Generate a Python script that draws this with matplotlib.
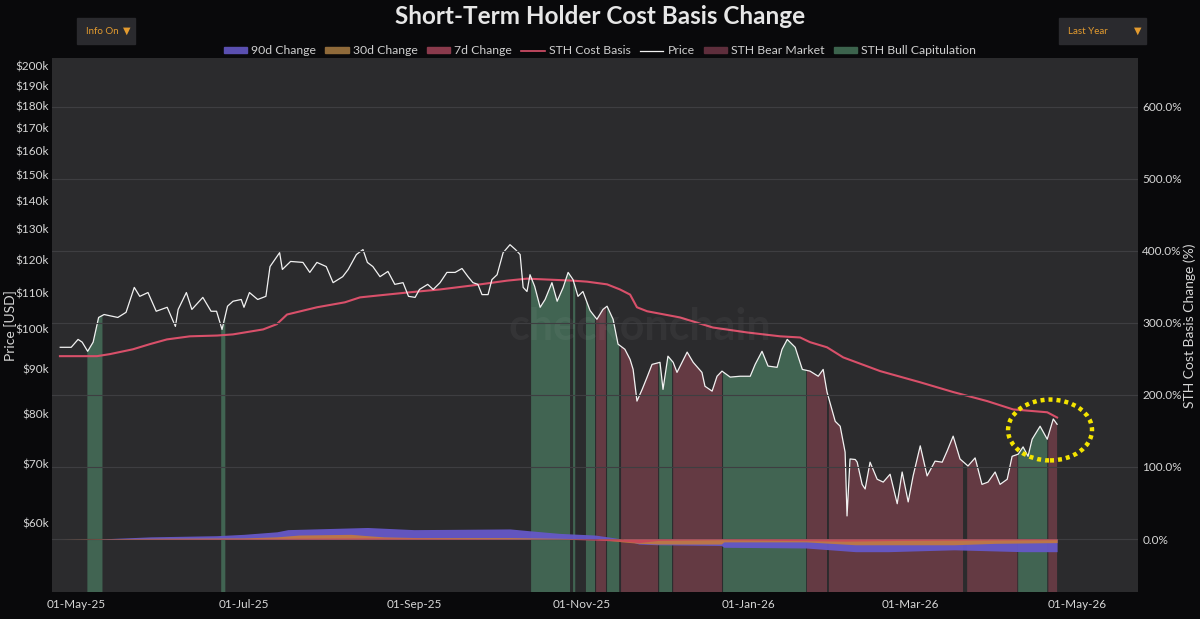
import numpy as np
import matplotlib
matplotlib.use('Agg')
import matplotlib.pyplot as plt
import matplotlib.dates as mdates
from matplotlib.patches import Patch, Ellipse, Rectangle
from matplotlib.lines import Line2D
from matplotlib.ticker import FixedLocator, FuncFormatter, NullLocator, NullFormatter

plt.rcParams['font.family'] = ['Lato', 'DejaVu Sans']

# ---------------- data ----------------
BASE_DATE = '2025-05-01'   # day offsets below are counted from this date

price_day = [
    -6, -2, 0.5, 2, 4, 6, 8, 10, 15, 18,
    21, 23, 26, 29, 33, 36, 37, 40, 42, 46,
    49, 51, 53, 55, 57, 60, 61, 63, 66, 69,
    70.5, 74, 75, 78, 82.5, 85, 87.6, 91, 93.5, 97,
    99, 102, 104.4, 106, 108, 110.6, 113.5, 116, 119, 121,
    123.4, 125, 128, 130, 132.5, 135, 138, 140.5, 142.7, 144.5,
    146.3, 147.8, 150, 151.4, 153.3, 155.5, 158, 160, 161.7, 162.8,
    164.2, 165.3, 167, 169, 170.8, 173.3, 175.2, 177.4, 179.2, 181,
    182.8, 184.6, 187.2, 189.7, 191.9, 193.4, 195.6, 197.4, 199.9, 201.8,
    202.9, 204.3, 206.2, 208, 209.8, 212.7, 213.8, 215.6, 217.5, 218.9,
    222.6, 224.8, 228, 229.1, 231.7, 233.5, 235.3, 238.3, 241.9, 245.6,
    247.4, 249.9, 252.1, 255.4, 257.2, 259.1, 262, 264.6, 267.4, 270.4,
    272.2, 273.6, 276.6, 278.4, 280.2, 280.9, 282, 283.9, 284.6, 286.4,
    287.5, 289.3, 291.9, 294.1, 296.6, 299.2, 301, 303.2, 305, 307.6,
    310.1, 313, 315.6, 317.4, 319.6, 322.1, 325, 327.6, 330.1, 332.3,
    334.9, 336.7, 339.3, 341.1, 343.3, 345.1, 346.9, 348.4, 351.3, 353.9,
    356.1, 357.5]
price_k = [
    95.3, 95.3, 97.3, 96.6, 94.3, 96.6, 103.1, 103.9, 103.1, 104.5,
    111.6, 109.0, 110.1, 104.8, 105.9, 100.7, 105.3, 110.1, 105.3, 108.7,
    104.8, 104.8, 99.9, 106.2, 107.6, 108.1, 105.9, 110.1, 108.1, 109.0,
    117.9, 122.3, 117.0, 119.5, 119.2, 116.1, 119.2, 117.9, 113.0, 114.8,
    117.0, 121.7, 123.3, 119.2, 117.9, 114.8, 116.4, 112.5, 113.0, 109.0,
    108.7, 111.0, 112.5, 111.0, 113.0, 116.1, 116.1, 117.3, 114.8, 113.0,
    112.5, 109.5, 109.5, 113.9, 115.4, 122.3, 124.9, 123.3, 121.7, 111.6,
    110.4, 115.4, 111.9, 105.9, 108.1, 113.0, 107.6, 111.6, 116.1, 113.9,
    109.0, 110.4, 105.0, 102.6, 105.3, 106.2, 102.6, 96.1, 94.8, 92.3,
    89.9, 82.7, 85.3, 88.1, 91.1, 91.6, 85.3, 93.1, 91.6, 89.2,
    94.1, 91.6, 89.2, 86.0, 84.9, 88.3, 89.5, 88.1, 88.3, 88.3,
    91.1, 94.3, 90.7, 90.4, 94.8, 97.3, 95.3, 89.9, 89.5, 88.3,
    89.9, 84.7, 78.4, 77.4, 72.3, 61.1, 71.0, 70.9, 70.4, 66.4,
    65.6, 70.4, 67.3, 66.8, 68.2, 63.1, 68.6, 63.4, 67.9, 73.5,
    67.9, 70.6, 70.4, 72.5, 75.4, 71.0, 69.7, 71.2, 66.4, 66.8,
    68.6, 66.4, 67.3, 71.5, 71.9, 73.3, 71.5, 74.8, 77.4, 74.8,
    78.9, 77.8]

cb_day = [-6.1, 7.4, 12.1, 20.5, 26.7, 32.9, 41.3, 51.2, 57, 68,
          73, 76.7, 87.6, 97.8, 103.3, 110.6, 120.5, 132.5, 144.5, 156.9,
          164.2, 181, 186.1, 193.4, 198.1, 201.8, 204.3, 208, 220, 232,
          244.5, 256.5, 263.8, 267.4, 273.6, 279.5, 293, 307.6, 319.6, 332,
          341.5, 353.9, 357.5]
cb_k = [93.1, 93.1, 93.6, 94.8, 96.1, 97.3, 98.1, 98.3, 98.6, 99.9,
        101.3, 103.9, 105.9, 107.3, 108.7, 109.3, 110.1, 111.0, 112.2, 113.6,
        114.2, 113.6, 113.3, 112.5, 111.0, 109.5, 105.9, 104.8, 103.1, 100.4,
        99.1, 98.1, 97.8, 96.6, 95.3, 92.8, 89.5, 86.9, 84.7, 82.7,
        80.9, 80.3, 79.2]

chg90_day = [-6, 8, 27, 51, 61, 73, 77, 106, 123, 158, 165, 176, 189, 199,
             205, 212, 235, 236, 266, 284, 296, 320, 345, 357.5]
chg90 = [0, 0, 3, 4.6, 6.5, 10, 13, 16, 13, 14, 11.5, 7.8, 5.5, 0,
         -7, -8, -9, -11.5, -12.5, -17.6, -17.6, -15, -17.6, -17.6]

chg30_day = [-6, 27, 61, 73, 81, 100, 106, 112, 124, 158, 176, 189, 199, 205,
             212, 235, 236, 266, 284, 320, 335, 357.5]
chg30 = [0, 1, 1.5, 3, 5.5, 6.5, 4.6, 3, 2, 2, 1, 0, -4, -6,
         -7, -7, -4, -4, -8, -8, -6, -5]

chg7_day = [-6, 73, 106, 176, 199, 205, 212, 235, 280, 300, 357.5]
chg7 = [0, 1, 1.5, 0, -3, -5, -2, -1, -3, -2, -1]

bull_start = [3.9, 52.7, 165.7, 181.0, 185.7, 193.4, 212.4, 235.7, 343.3]
bull_end = [9.4, 54.2, 179.9, 181.8, 189.0, 197.8, 217.1, 266.0, 353.9]
bear_start = [189.4, 198.5, 217.5, 266.3, 274.3, 324.7, 354.3]
bear_end = [193.0, 212.0, 235.3, 273.6, 323.2, 343.0, 357.5]

price_ticks_k = [60, 70, 80, 90, 100, 110, 120, 130, 140, 150, 160, 170, 180, 190, 200]
pct_ticks = [0, 100, 200, 300, 400, 500, 600]

legend_labels = ['90d Change', '30d Change', '7d Change', 'STH Cost Basis',
                 'Price', 'STH Bear Market', 'STH Bull Capitulation']

# ---------------- style ----------------
FIG_BG = '#09090b'
AX_BG = '#2b2b2d'
TXT = '#d6d6d6'
C90 = '#6658c8'
C30 = '#c47a3c'
C7 = '#c8455a'
CCB = '#d9506a'
CPRICE = '#f2f2f2'
CBEAR = '#643a43'
CBULL = '#416452'

base = mdates.datestr2num(BASE_DATE)
pday = np.array(price_day, dtype=float)
pval = np.array(price_k) * 1000

fig = plt.figure(figsize=(12, 6.19), dpi=100, facecolor=FIG_BG)
ax = fig.add_axes([52/1200, 27/619, 1086/1200, 534/619])
ax.set_facecolor(AX_BG)
ax.set_yscale('log')
ax.set_ylim(50000, 204300)
ax.set_xlim(base - 9, base + 387)

# regime bands (filled under price)
for starts, ends, col in ((bull_start, bull_end, CBULL), (bear_start, bear_end, CBEAR)):
    for s, e in zip(starts, ends):
        g = np.linspace(s, e, 60)
        ax.fill_between(base + g, 1000, np.interp(g, pday, pval), color=col,
                        lw=0, zorder=1)

ax.plot(base + np.array(cb_day), np.array(cb_k) * 1000, color=CCB, lw=1.5, zorder=3)
ax.plot(base + pday, pval, color=CPRICE, lw=0.9, zorder=4)

ax.yaxis.set_major_locator(FixedLocator([v * 1000 for v in price_ticks_k]))
ax.yaxis.set_major_formatter(FuncFormatter(lambda v, p: f'${v/1000:.0f}k'))
ax.yaxis.set_minor_locator(NullLocator())
ax.yaxis.set_minor_formatter(NullFormatter())
ax.xaxis.set_major_locator(mdates.MonthLocator(bymonth=[1, 3, 5, 7, 9, 11]))
ax.xaxis.set_major_formatter(mdates.DateFormatter('%d-%b-%y'))
ax.tick_params(axis='y', length=0, colors=TXT, labelsize=8.5, pad=2)
ax.tick_params(axis='x', length=0, colors=TXT, labelsize=8.5, pad=5)
for sp in ax.spines.values():
    sp.set_visible(False)

ax2 = ax.twinx()
ax2.set_ylim(-73.6, 668)
ax2.patch.set_visible(False)
ax2.fill_between(base + np.array(chg90_day), 0, chg90, color=C90, lw=0, zorder=2, alpha=0.95)
ax2.fill_between(base + np.array(chg30_day), 0, chg30, color=C30, lw=0, zorder=2.1, alpha=0.9)
ax2.fill_between(base + np.array(chg7_day), 0, chg7, color=C7, lw=0, zorder=2.2, alpha=0.9)
ax2.yaxis.set_major_locator(FixedLocator(pct_ticks))
ax2.yaxis.set_major_formatter(FuncFormatter(lambda v, p: f'{v:.1f}%'))
ax2.tick_params(axis='y', length=0, colors=TXT, labelsize=8.5, pad=3)
ax2.grid(True, axis='both', color='#3e3e41', lw=0.8, zorder=1.5)
for sp in ax2.spines.values():
    sp.set_visible(False)

ax2.text(0.541, 0.496, 'checkonchain', transform=ax2.transAxes, ha='center', va='center',
         fontsize=31, fontweight='bold', color='white', alpha=0.045, zorder=1)

ax2.add_patch(Ellipse((0.919, 0.3034), 0.0773, 0.114, transform=ax2.transAxes,
                      fill=False, edgecolor='#f4e400', lw=3.2,
                      linestyle=(0, (0.9, 0.9)), zorder=10))

# axis labels
fig.text(11/1200, 1 - 326/619, 'Price [USD]', rotation=90, ha='center', va='center',
         color=TXT, fontsize=10)
fig.text(1190/1200, 1 - 326/619, 'STH Cost Basis Change (%)', rotation=90, ha='center',
         va='center', color=TXT, fontsize=10)

# title
fig.text(0.5, 1 - 16/619, 'Short-Term Holder Cost Basis Change', ha='center', va='center',
         color='#e6e6e6', fontsize=17.5, fontweight='bold')

# legend
handles = [Patch(color='#5a4fb0'), Patch(color='#8f6a3a'), Patch(color='#8a3a4c'),
           Line2D([], [], color=CCB, lw=1.2), Line2D([], [], color=CPRICE, lw=0.9),
           Patch(color='#5e2e3c'), Patch(color='#3c634d')]
fig.legend(handles, legend_labels, loc='center', bbox_to_anchor=(600/1200, 1 - 51/619),
           ncol=7, frameon=False, fontsize=8.8, labelcolor='#cfcfcf', handlelength=1.9,
           handleheight=0.4, columnspacing=0.75, handletextpad=0.35)

# UI buttons
for x0, w, label in ((77, 58, 'Info On'), (1059, 87, 'Last Year')):
    fig.patches.append(Rectangle((x0/1200, 1 - 44/619), w/1200, 26/619,
                                 transform=fig.transFigure, color='#2a2a2e', zorder=0))
    fig.text((x0 + 9)/1200, 1 - 31/619, label, ha='left', va='center',
             color='#e39b2f', fontsize=7)
    fig.text((x0 + w - 8)/1200, 1 - 31/619, '▼', ha='center', va='center',
             color='#e39b2f', fontsize=7, family=['DejaVu Sans'])

fig.savefig('out.png', dpi=100, facecolor=FIG_BG)
